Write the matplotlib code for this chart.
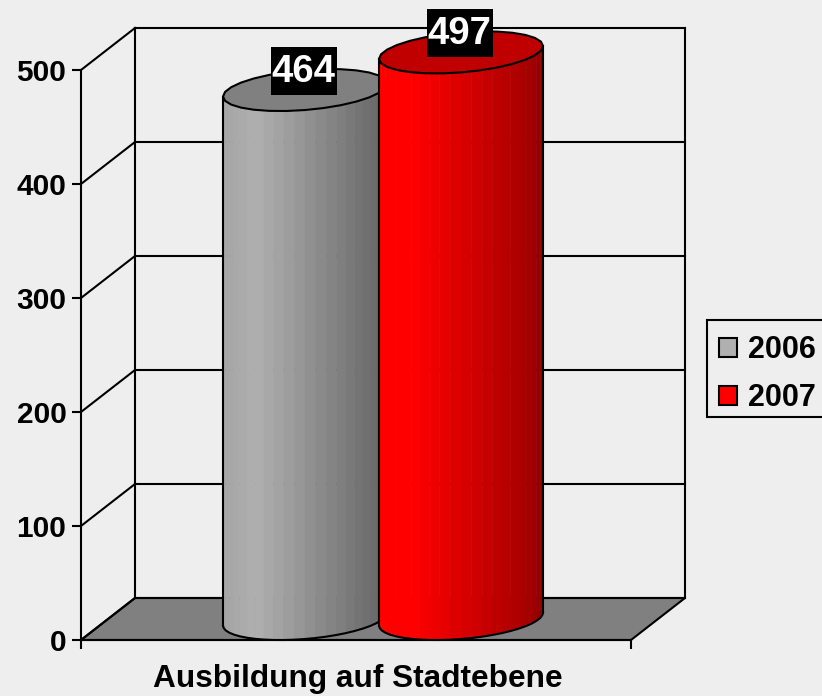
import numpy as np
import matplotlib
matplotlib.use('Agg')
import matplotlib.pyplot as plt
from matplotlib.patches import Patch, Polygon, Rectangle
from matplotlib.colors import to_rgb

plt.rcParams['font.family'] = ['Liberation Sans', 'DejaVu Sans']

category = 'Ausbildung auf Stadtebene'
series_names = ['2006', '2007']
values = [464, 497]
y_ticks = [0, 100, 200, 300, 400, 500]

bg = '#eeeeee'
W, H = 822, 696
# front plane of the 3d box in pixels
left, right, bottom, top = 81, 631, 640, 70
depth_x = 54
unit = (bottom - top) / 500
depth_y = 42 / unit

fig = plt.figure(figsize=(W / 100, H / 100), dpi=100, facecolor=bg)
ax = fig.add_axes([left / W, 1 - bottom / H, (right - left) / W, (bottom - top) / H])
ax.set_xlim(left, right)
ax.set_ylim(0, 500)
ax.patch.set_alpha(0)

for s in ['top', 'right']:
    ax.spines[s].set_visible(False)
for s in ['left', 'bottom']:
    ax.spines[s].set_linewidth(1.5)
    ax.spines[s].set_zorder(3)

ax.set_yticks(y_ticks)
ax.set_xticks([left, right])
ax.set_xticklabels(['', ''])
ax.tick_params(length=6.5, width=1.5)
ax.tick_params(axis='y', labelsize=21.5, pad=4)
for lab in ax.get_yticklabels():
    lab.set_fontweight('bold')
ax.set_xlabel(category, fontsize=22.8, fontweight='bold', labelpad=7.5, x=0.504)

# floor and back wall
floor = [(left, 0), (right, 0), (right + depth_x, depth_y), (left + depth_x, depth_y)]
ax.add_patch(Polygon(floor, closed=True, fc='#808080', ec='black', lw=1.5, clip_on=False, zorder=1))
for v in y_ticks:
    ax.plot([left + depth_x, right + depth_x], [v + depth_y, v + depth_y], color='black', lw=1.5, clip_on=False, zorder=1)
    ax.plot([left, left + depth_x], [v, v + depth_y], color='black', lw=1.5, clip_on=False, zorder=1)
ax.plot([left + depth_x] * 2, [depth_y, 500 + depth_y], color='black', lw=1.5, clip_on=False, zorder=1)
ax.plot([right + depth_x] * 2, [depth_y, 500 + depth_y], color='black', lw=1.5, clip_on=False, zorder=1)


def cylinder(cx, value, stops, top_color, z):
    a = 82
    b = 20 / unit
    tilt = 6.5 / unit
    y0 = depth_y / 2
    t = np.linspace(np.pi, 0, 25)
    xs = cx + a * np.cos(t)
    low = y0 - b * np.sin(t) + tilt * np.cos(t)
    frac = (xs - xs[0]) / (xs[-1] - xs[0])
    rgb = np.array([to_rgb(c) for c in stops[1]])
    for i in range(len(t) - 1):
        f = (frac[i] + frac[i + 1]) / 2
        col = [np.interp(f, stops[0], rgb[:, k]) for k in range(3)]
        pts = [(xs[i], low[i]), (xs[i + 1], low[i + 1]),
               (xs[i + 1], low[i + 1] + value), (xs[i], low[i] + value)]
        ax.add_patch(Polygon(pts, closed=True, fc=col, ec=col, lw=0.4, clip_on=False, zorder=z))
    ax.plot(xs, low, color='black', lw=1.5, clip_on=False, zorder=z + 0.1)
    ax.plot([xs[0], xs[0]], [low[0], low[0] + value], color='black', lw=1.5, clip_on=False, zorder=z + 0.1)
    ax.plot([xs[-1], xs[-1]], [low[-1], low[-1] + value], color='black', lw=1.5, clip_on=False, zorder=z + 0.1)
    tt = np.linspace(0, 2 * np.pi, 29)
    ex = cx + a * np.cos(tt)
    ey = y0 + value + b * np.sin(tt) + tilt * np.cos(tt)
    ax.add_patch(Polygon(np.column_stack([ex, ey]), closed=True, fc=top_color, ec='black', lw=1.5,
                         clip_on=False, zorder=z + 0.2))
    # black box behind the value label
    ly = y0 + value + 17
    ax.add_patch(Rectangle((cx - 34.5, ly - 24 / unit), 66, 48 / unit, fc='black', ec='none',
                           clip_on=False, zorder=9))
    ax.text(cx - 1.5, ly - 1, str(value), ha='center', va='center', color='white',
            fontsize=27.5, fontweight='bold', zorder=10, clip_on=False)


gray_stops = ([0, 0.2, 1], ['#a4a4a4', '#b0b0b0', '#646464'])
red_stops = ([0, 0.2, 0.9, 1], ['#ff0000', '#ff0000', '#a80000', '#900000'])
cylinder(305, values[0], gray_stops, '#808080', 4)
cylinder(461, values[1], red_stops, '#c00000', 5)

# legend frame runs off the right edge, so it is drawn apart from the legend
fig.add_artist(Rectangle((707 / W, 1 - 417 / H), 130 / W, 97 / H, transform=fig.transFigure,
                         fc=bg, ec='black', lw=1.5, zorder=2))
handles = [Patch(fc='#b0b0b0', ec='black', lw=1.5), Patch(fc='#ff0000', ec='black', lw=1.5)]
leg = fig.legend(handles, series_names, loc='upper left', bbox_to_anchor=(707 / W, 1 - 323 / H),
                 borderaxespad=0, frameon=False,
                 prop={'size': 22, 'weight': 'bold'}, handlelength=0.59, handleheight=0.59,
                 handletextpad=0.36, labelspacing=0.59, borderpad=0.39)
leg.set_zorder(3)

fig.savefig('out.png', dpi=100, facecolor=bg)
